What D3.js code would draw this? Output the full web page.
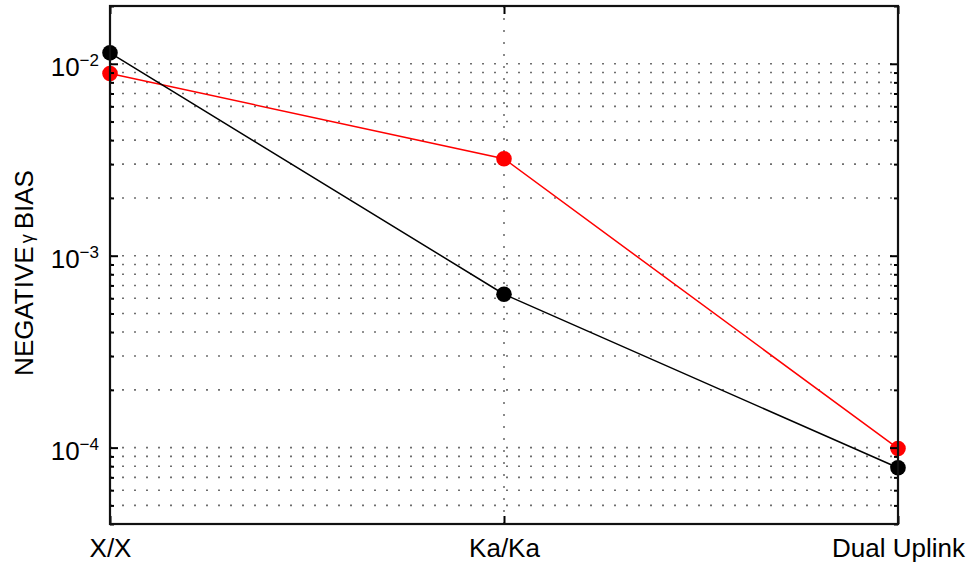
<!DOCTYPE html>
<html>
<head>
<meta charset="utf-8">
<script src="https://cdn.jsdelivr.net/npm/d3@7"></script>
<style>
  body { margin: 0; background: #fff; }
  svg text { font-family: "Liberation Sans", Arial, Helvetica, sans-serif; fill: #000; }
  .grid line { stroke: #6e6e6e; stroke-width: 1.6; stroke-dasharray: 2,10; }
</style>
</head>
<body>
<svg id="chart"></svg>
<script>
var categories = ["X/X", "Ka/Ka", "Dual Uplink"];
var blackValues = [1.14e-2, 6.3e-4, 7.85e-5];
var redValues = [8.9e-3, 3.2e-3, 9.9e-5];
var yDomain = [4e-5, 2e-2];
var yMajorTicks = [1e-4, 1e-3, 1e-2];
var yMinorTicks = [4e-5, 5e-5, 6e-5, 7e-5, 8e-5, 9e-5,
                   2e-4, 3e-4, 4e-4, 5e-4, 6e-4, 7e-4, 8e-4, 9e-4,
                   2e-3, 3e-3, 4e-3, 5e-3, 6e-3, 7e-3, 8e-3, 9e-3, 2e-2];
var yTitle = "NEGATIVE";
var yTitleGreek = "\u03b3";
var yTitleEnd = "BIAS";

drawChart();

function drawChart() {
  var W = 970, H = 565;
  var margin = {top: 6, right: 72, bottom: 41, left: 110},
      width = W - margin.left - margin.right,
      height = H - margin.top - margin.bottom;

  var svg = d3.select("#chart")
      .attr("width", W)
      .attr("height", H)
    .append("g")
      .attr("transform", "translate(" + margin.left + "," + margin.top + ")");

  var x = d3.scalePoint().domain(categories).range([0, width]).padding(0);
  var y = d3.scaleLog().domain(yDomain).range([height, 0]);

  // dotted grid, horizontal at every log tick
  var grid = svg.append("g").attr("class", "grid");
  grid.selectAll("line.h")
      .data(yMajorTicks.concat(yMinorTicks))
    .enter().append("line")
      .attr("class", "h")
      .attr("x1", 0).attr("x2", width)
      .attr("y1", function(d) { return y(d); })
      .attr("y2", function(d) { return y(d); });

  // vertical grid at the inner category
  grid.selectAll("line.v")
      .data(categories.slice(1, -1))
    .enter().append("line")
      .attr("class", "v")
      .attr("x1", function(d) { return x(d); })
      .attr("x2", function(d) { return x(d); })
      .attr("y1", height).attr("y2", 0);

  // lines + markers
  var series = [
    {values: redValues, color: "#ff0000"},
    {values: blackValues, color: "#000000"}
  ];

  var line = d3.line()
      .x(function(d, i) { return x(categories[i]); })
      .y(function(d) { return y(d); });

  series.forEach(function(s) {
    svg.append("path")
        .datum(s.values)
        .attr("fill", "none")
        .attr("stroke", s.color)
        .attr("stroke-width", 1.5)
        .attr("d", line);
  });

  series.forEach(function(s) {
    svg.selectAll(null)
        .data(s.values)
      .enter().append("circle")
        .attr("cx", function(d, i) { return x(categories[i]); })
        .attr("cy", function(d) { return y(d); })
        .attr("r", 7.8)
        .attr("fill", s.color);
  });

  // axes
  var yLeft = svg.append("g")
      .call(d3.axisLeft(y).tickValues(yMajorTicks).tickSizeInner(-8).tickSizeOuter(0).tickPadding(11).tickFormat(function() { return ""; }));
  yLeft.selectAll(".tick text").each(function(d) {
    var t = d3.select(this)
        .attr("font-size", 26)
        .attr("dy", "0.45em");
    t.append("tspan").text("10");
    t.append("tspan")
        .attr("font-size", 17)
        .attr("dy", "-0.6em")
        .text("\u2212" + Math.round(-Math.log10(d)));
  });

  svg.append("g")
      .call(d3.axisLeft(y).tickValues(yMinorTicks).tickSizeInner(-4).tickSizeOuter(0).tickFormat(function() { return ""; }));

  svg.append("g")
      .attr("transform", "translate(" + width + ",0)")
      .call(d3.axisRight(y).tickValues(yMajorTicks).tickSizeInner(-8).tickSizeOuter(0).tickFormat(function() { return ""; }));
  svg.append("g")
      .attr("transform", "translate(" + width + ",0)")
      .call(d3.axisRight(y).tickValues(yMinorTicks).tickSizeInner(-4).tickSizeOuter(0).tickFormat(function() { return ""; }));

  var xBottom = svg.append("g")
      .attr("transform", "translate(0," + height + ")")
      .call(d3.axisBottom(x).tickSizeInner(-8).tickSizeOuter(0).tickPadding(15));
  xBottom.selectAll(".tick text")
      .attr("font-size", 26)
      .attr("dy", "0.71em");

  svg.append("g")
      .call(d3.axisTop(x).tickSizeInner(-8).tickSizeOuter(0).tickFormat(function() { return ""; }));

  svg.selectAll(".domain").remove();
  svg.selectAll(".tick line").attr("stroke", "#000").attr("stroke-width", 2);

  // box
  svg.append("rect")
      .attr("width", width)
      .attr("height", height)
      .attr("fill", "none")
      .attr("stroke", "#111")
      .attr("stroke-width", 2.2);

  // y title
  var title = svg.append("text")
      .attr("transform", "translate(" + (-margin.left + 33) + "," + (height / 2 + 8) + ") rotate(-90)")
      .attr("text-anchor", "middle")
      .attr("font-size", 26);
  title.append("tspan").text(yTitle);
  title.append("tspan").attr("font-size", 18).attr("dx", 3).text(yTitleGreek);
  title.append("tspan").attr("dx", 5).text(yTitleEnd);
}
</script>
</body>
</html>
